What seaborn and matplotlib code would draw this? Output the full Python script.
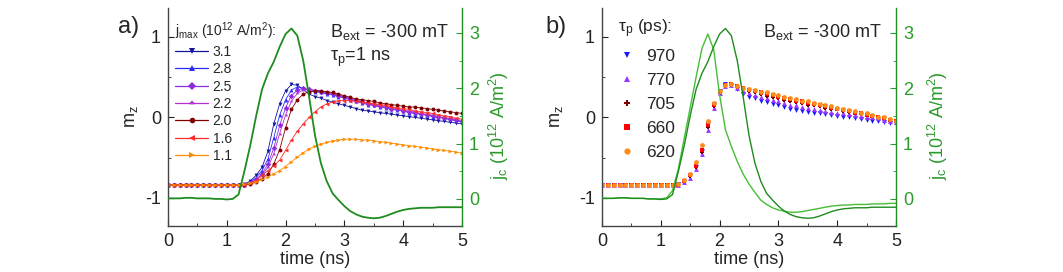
import numpy as np
import matplotlib
matplotlib.use("Agg")
import matplotlib.pyplot as plt
import seaborn as sns
from matplotlib.lines import Line2D
from matplotlib.ticker import MultipleLocator

sns.set_style("ticks")
plt.rcParams["font.family"] = ["Liberation Sans", "DejaVu Sans"]
plt.rcParams["mathtext.default"] = "regular"
plt.rcParams["axes.unicode_minus"] = False

# time axis, 0 .. 5 ns in 0.1 ns steps
time_ns = np.round(np.arange(51) * 0.1, 1)

# panel a: m_z for different peak current densities (10^12 A/m^2)
jmax_31 = [-0.84, -0.84, -0.84, -0.84, -0.84, -0.84, -0.84, -0.84, -0.84, -0.84, -0.84, -0.84, -0.84,
           -0.83, -0.79, -0.72, -0.62, -0.42, -0.08, 0.17, 0.33, 0.41, 0.40, 0.35, 0.29, 0.26, 0.24,
           0.21, 0.19, 0.17, 0.15, 0.13, 0.11, 0.09, 0.08, 0.07, 0.06, 0.05, 0.04, 0.03, 0.02, 0.01,
           0.00, -0.01, -0.02, -0.03, -0.04, -0.05, -0.06, -0.07, -0.08]
jmax_28 = [-0.84, -0.84, -0.84, -0.84, -0.84, -0.84, -0.84, -0.84, -0.84, -0.84, -0.84, -0.84, -0.84,
           -0.84, -0.80, -0.75, -0.66, -0.52, -0.25, 0.03, 0.22, 0.34, 0.38, 0.36, 0.33, 0.32, 0.31,
           0.29, 0.28, 0.26, 0.24, 0.22, 0.20, 0.18, 0.16, 0.15, 0.13, 0.12, 0.10, 0.09, 0.08, 0.06,
           0.05, 0.04, 0.03, 0.01, 0.00, -0.01, -0.03, -0.04, -0.06]
jmax_25 = [-0.84, -0.84, -0.84, -0.84, -0.84, -0.84, -0.84, -0.84, -0.84, -0.84, -0.84, -0.84, -0.84,
           -0.84, -0.81, -0.77, -0.70, -0.58, -0.38, -0.10, 0.12, 0.27, 0.34, 0.36, 0.35, 0.33, 0.32,
           0.30, 0.29, 0.27, 0.25, 0.23, 0.21, 0.19, 0.17, 0.16, 0.14, 0.13, 0.11, 0.10, 0.08, 0.07,
           0.06, 0.04, 0.03, 0.02, 0.01, -0.01, -0.02, -0.03, -0.05]
jmax_22 = [-0.84, -0.84, -0.84, -0.84, -0.84, -0.84, -0.84, -0.84, -0.84, -0.84, -0.84, -0.84, -0.84,
           -0.84, -0.82, -0.78, -0.72, -0.62, -0.45, -0.20, 0.03, 0.20, 0.30, 0.34, 0.35, 0.34, 0.33,
           0.31, 0.30, 0.28, 0.26, 0.24, 0.22, 0.20, 0.18, 0.17, 0.15, 0.14, 0.12, 0.11, 0.09, 0.08,
           0.07, 0.05, 0.04, 0.03, 0.01, 0.00, -0.01, -0.02, -0.04]
jmax_20 = [-0.84, -0.84, -0.84, -0.84, -0.84, -0.84, -0.84, -0.84, -0.84, -0.84, -0.84, -0.84, -0.84,
           -0.84, -0.83, -0.80, -0.76, -0.70, -0.58, -0.40, -0.13, 0.10, 0.22, 0.29, 0.32, 0.33, 0.33,
           0.32, 0.31, 0.29, 0.27, 0.25, 0.23, 0.22, 0.21, 0.20, 0.18, 0.17, 0.16, 0.15, 0.14, 0.13,
           0.13, 0.12, 0.11, 0.10, 0.09, 0.08, 0.07, 0.06, 0.05]
jmax_16 = [-0.84, -0.84, -0.84, -0.84, -0.84, -0.84, -0.84, -0.84, -0.84, -0.84, -0.84, -0.84, -0.84,
           -0.84, -0.82, -0.78, -0.72, -0.66, -0.60, -0.53, -0.41, -0.28, -0.17, -0.08, 0.00, 0.07, 0.13,
           0.17, 0.19, 0.21, 0.21, 0.21, 0.20, 0.19, 0.18, 0.17, 0.16, 0.15, 0.13, 0.12, 0.11, 0.10,
           0.08, 0.07, 0.06, 0.05, 0.03, 0.02, 0.01, -0.01, -0.02]
jmax_11 = [-0.84, -0.84, -0.84, -0.84, -0.84, -0.84, -0.84, -0.84, -0.84, -0.84, -0.84, -0.84, -0.84,
           -0.83, -0.82, -0.80, -0.77, -0.74, -0.70, -0.66, -0.61, -0.55, -0.49, -0.44, -0.39, -0.36, -0.33,
           -0.31, -0.29, -0.28, -0.27, -0.27, -0.27, -0.28, -0.28, -0.29, -0.30, -0.31, -0.32, -0.33, -0.34,
           -0.35, -0.36, -0.37, -0.38, -0.39, -0.40, -0.41, -0.42, -0.43, -0.44]

# panel b: m_z for different pulse lengths (ps); 970 ps is the 3.1 run of panel a
tau_970 = jmax_31
tau_770 = [-0.84, -0.84, -0.84, -0.84, -0.84, -0.84, -0.84, -0.84, -0.84, -0.84, -0.84, -0.84, -0.84,
           -0.84, -0.80, -0.75, -0.64, -0.46, -0.16, 0.12, 0.30, 0.39, 0.40, 0.37, 0.33, 0.30, 0.28,
           0.26, 0.24, 0.22, 0.20, 0.18, 0.16, 0.15, 0.13, 0.12, 0.10, 0.09, 0.08, 0.07, 0.06, 0.05,
           0.04, 0.03, 0.02, 0.01, 0.00, -0.01, -0.03, -0.04, -0.06]
tau_705 = [-0.84, -0.84, -0.84, -0.84, -0.84, -0.84, -0.84, -0.84, -0.84, -0.84, -0.84, -0.84, -0.84,
           -0.84, -0.79, -0.73, -0.62, -0.43, -0.12, 0.14, 0.31, 0.39, 0.41, 0.38, 0.35, 0.33, 0.31,
           0.29, 0.27, 0.25, 0.24, 0.22, 0.21, 0.19, 0.18, 0.16, 0.15, 0.14, 0.12, 0.11, 0.10, 0.08,
           0.07, 0.06, 0.04, 0.03, 0.02, 0.00, -0.01, -0.03, -0.05]
tau_660 = [-0.84, -0.84, -0.84, -0.84, -0.84, -0.84, -0.84, -0.84, -0.84, -0.84, -0.84, -0.84, -0.84,
           -0.84, -0.79, -0.72, -0.60, -0.40, -0.10, 0.15, 0.32, 0.40, 0.41, 0.39, 0.36, 0.34, 0.33,
           0.31, 0.29, 0.28, 0.26, 0.24, 0.23, 0.21, 0.20, 0.18, 0.17, 0.15, 0.14, 0.12, 0.11, 0.09,
           0.08, 0.06, 0.05, 0.03, 0.02, 0.00, -0.01, -0.03, -0.05]
tau_620 = [-0.84, -0.84, -0.84, -0.84, -0.84, -0.84, -0.84, -0.84, -0.84, -0.84, -0.84, -0.84, -0.84,
           -0.83, -0.78, -0.70, -0.56, -0.34, -0.05, 0.18, 0.33, 0.40, 0.41, 0.39, 0.37, 0.35, 0.34,
           0.32, 0.31, 0.29, 0.28, 0.26, 0.24, 0.23, 0.21, 0.20, 0.18, 0.17, 0.15, 0.14, 0.12, 0.11,
           0.09, 0.08, 0.06, 0.05, 0.03, 0.01, 0.00, -0.02, -0.05]

# current pulses j_c (10^12 A/m^2)
jc_1ns = [0.01, 0.01, 0.01, 0.02, 0.02, 0.01, 0.01, 0.01, 0.00, 0.00, -0.01, 0.00,
          0.08, 0.50, 0.97, 1.50, 1.98, 2.27, 2.48, 2.75, 2.98, 3.08, 2.95, 2.50, 1.85, 1.15,
          0.65, 0.32, 0.10, -0.02, -0.13, -0.22, -0.28, -0.32, -0.34, -0.35, -0.34, -0.31, -0.27,
          -0.23, -0.20, -0.18, -0.17, -0.16, -0.16, -0.16, -0.15, -0.15, -0.15, -0.15, -0.15]
jc_620 = [0.01, 0.01, 0.01, 0.02, 0.02, 0.01, 0.01, 0.01, 0.00, 0.00, 0.00, 0.02,
          0.15, 0.55, 1.10, 1.65, 2.20, 2.72, 2.98, 2.70, 1.88, 1.25, 0.95, 0.68, 0.45, 0.27,
          0.12, -0.02, -0.10, -0.16, -0.20, -0.22, -0.24, -0.24, -0.23, -0.21, -0.19, -0.17, -0.15,
          -0.13, -0.12, -0.11, -0.11, -0.10, -0.10, -0.10, -0.09, -0.09, -0.09, -0.08, -0.08]

jmax_labels = ["3.1", "2.8", "2.5", "2.2", "2.0", "1.6", "1.1"]
jmax_series = [jmax_31, jmax_28, jmax_25, jmax_22, jmax_20, jmax_16, jmax_11]
jmax_colors = ["#14149e", "#2b2bff", "#8a2be2", "#b030d0", "#800000", "#ff2a2a", "#ff8c00"]
jmax_markers = ["v", "^", "D", "*", "o", "<", ">"]

tau_labels = ["970", "770", "705", "660", "620"]
tau_series = [tau_970, tau_770, tau_705, tau_660, tau_620]
tau_colors = ["#1a1aff", "#9933ff", "#800000", "#ff0000", "#ff8c1a"]
tau_markers = ["v", "^", "P", "s", "o"]

green_dark = "#1e8c1e"
green_light = "#45bf35"
axis_green = "#2a9a2a"

fig = plt.figure(figsize=(10.63, 2.72), dpi=100)
ax_a = fig.add_axes([0.158, 0.169, 0.2766, 0.8015])
ax_b = fig.add_axes([0.5663, 0.169, 0.2766, 0.8015])
axr_a = ax_a.twinx()
axr_b = ax_b.twinx()


def style(ax, axr):
    ax.set_xlim(0, 5)
    ax.set_ylim(-1.35, 1.36)
    axr.set_ylim(-0.49, 3.45)
    ax.xaxis.set_major_locator(MultipleLocator(1))
    ax.xaxis.set_minor_locator(MultipleLocator(0.5))
    ax.yaxis.set_major_locator(MultipleLocator(1))
    ax.yaxis.set_minor_locator(MultipleLocator(0.5))
    axr.yaxis.set_major_locator(MultipleLocator(1))
    axr.yaxis.set_minor_locator(MultipleLocator(0.5))
    ax.tick_params(which="both", direction="in", labelsize=13, colors="#222222", pad=5,
                   top=False, right=False)
    ax.tick_params(which="major", length=4)
    ax.tick_params(which="minor", length=2.5)
    axr.tick_params(which="both", direction="in", labelsize=13, colors=axis_green, pad=5)
    axr.tick_params(which="major", length=4)
    axr.tick_params(which="minor", length=2.5)
    for s in ["top", "right"]:
        ax.spines[s].set_visible(False)
    for s in ["top", "left", "bottom"]:
        axr.spines[s].set_visible(False)
    ax.spines["left"].set_color("#444444")
    ax.spines["bottom"].set_color("#444444")
    axr.spines["right"].set_color(green_dark)
    for s in ax.spines.values():
        s.set_linewidth(1.0)
    axr.spines["right"].set_linewidth(1.0)
    ax.set_xlabel("time (ns)", fontsize=13, labelpad=1)
    ax.set_ylabel("m$_z$", fontsize=13)
    axr.set_ylabel("j$_c$ (10$^{12}$ A/m$^2$)", fontsize=13, color=axis_green)


# panel a
for vals, c, m in zip(jmax_series, jmax_colors, jmax_markers):
    sns.lineplot(x=time_ns, y=vals, ax=ax_a, color=c, marker=m, markersize=2.8,
                 markeredgewidth=0, linewidth=0.6)
sns.lineplot(x=time_ns, y=jc_1ns, ax=axr_a, color=green_dark, linewidth=1.3)

# panel b
for vals, c, m in zip(tau_series, tau_colors, tau_markers):
    sns.scatterplot(x=time_ns, y=vals, ax=ax_b, color=c, marker=m, s=12, linewidth=0)
sns.lineplot(x=time_ns, y=jc_620, ax=axr_b, color=green_light, linewidth=1.0)
sns.lineplot(x=time_ns, y=jc_1ns, ax=axr_b, color=green_dark, linewidth=1.0)

style(ax_a, axr_a)
style(ax_b, axr_b)

ax_a.yaxis.set_label_coords(-0.095, 0.5)
ax_b.yaxis.set_label_coords(-0.126, 0.5)
axr_a.yaxis.set_label_coords(1.085, 0.459)
axr_b.yaxis.set_label_coords(1.101, 0.459)

# annotations
ax_a.text(0.551, 0.867, "B$_{ext}$ = -300 mT", transform=ax_a.transAxes, fontsize=13, va="baseline")
ax_a.text(0.551, 0.755, "τ$_p$=1 ns", transform=ax_a.transAxes, fontsize=13, va="baseline")
ax_b.text(0.549, 0.867, "B$_{ext}$ = -300 mT", transform=ax_b.transAxes, fontsize=13, va="baseline")
fig.text(0.111, 0.879, "a)", fontsize=17, va="baseline")
fig.text(0.513, 0.879, "b)", fontsize=17, va="baseline")

# legends
handles_a = [Line2D([], [], color=c, marker=m, markersize=4, markeredgewidth=0, linewidth=0.9)
             for c, m in zip(jmax_colors, jmax_markers)]
leg_a = ax_a.legend(handles_a, jmax_labels, title="j$_{max}$ (10$^{12}$ A/m$^2$):",
                    loc="upper left", bbox_to_anchor=(0.024, 0.945), frameon=False,
                    fontsize=10, title_fontsize=10, handlelength=2.4, handletextpad=0.3,
                    labelspacing=0.24, borderaxespad=0, borderpad=0, alignment="left")

handles_b = [Line2D([], [], color=c, marker=m, markersize=4.5, markeredgewidth=0, linestyle="none")
             for c, m in zip(tau_colors, tau_markers)]
leg_b = ax_b.legend(handles_b, tau_labels, title="τ$_p$ (ps):",
                    loc="upper left", bbox_to_anchor=(0.054, 0.955), frameon=False,
                    fontsize=12.5, title_fontsize=12.5, handlelength=1.0, handletextpad=0.6,
                    labelspacing=0.5, borderaxespad=0, borderpad=0, alignment="left")

fig.savefig("out.png", dpi=100)
